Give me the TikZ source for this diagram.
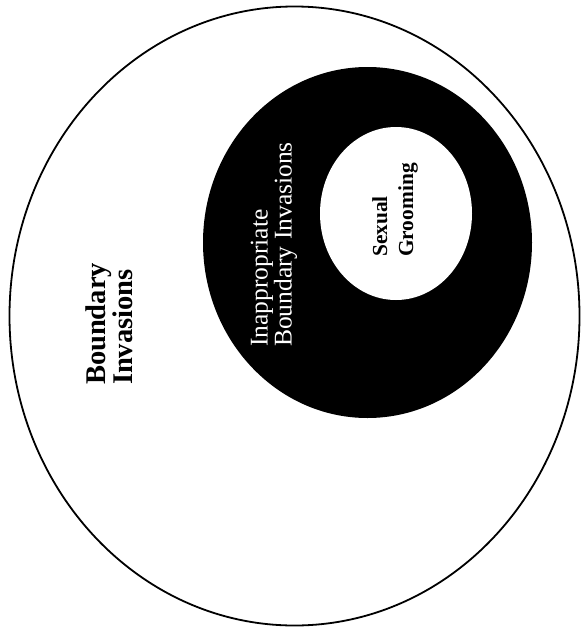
\documentclass[tikz,border=0pt]{standalone}
\usepackage{fontspec}
\setmainfont{Liberation Serif}

\begin{document}
\begin{tikzpicture}[x=1pt, y=-1pt,
	every node/.style={rotate=90, inner sep=0pt, align=left}]
	\useasboundingbox (0,0) rectangle (583,632);
	\draw[line width=1.8pt] (294.5,316) ellipse [x radius=285, y radius=309.5];
	\fill[black] (367.5,242.5) ellipse [x radius=164.5, y radius=175.5];
	\fill[white] (396,213.5) ellipse [x radius=76, y radius=86.5];
	\node[font=\fontsize{28.5}{27}\selectfont\bfseries] (outer) at (109.5,324) {Boundary\\Invasions};
	\node[white, font=\fontsize{25.5}{24}\selectfont] (middle) at (274,244.5) {Inappropriate\\Boundary Invasions};
	\node[font=\fontsize{21.4}{26}\selectfont\bfseries] (inner) at (395,210) {Sexual\\Grooming};
\end{tikzpicture}
\end{document}
